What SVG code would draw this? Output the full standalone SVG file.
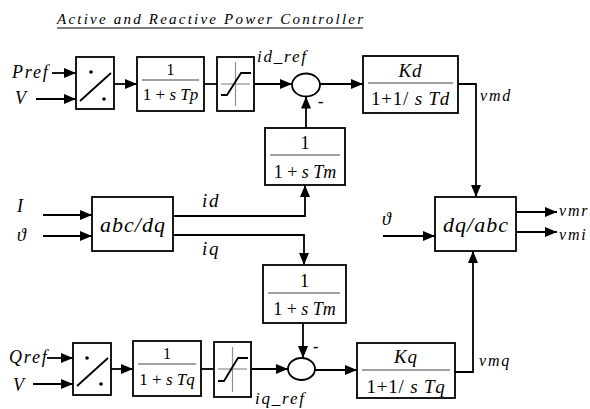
<svg xmlns="http://www.w3.org/2000/svg" width="590" height="409" viewBox="0 0 590 409" font-family="'Liberation Serif', 'DejaVu Serif', serif">
<defs>
<marker id="ah" markerUnits="userSpaceOnUse" markerWidth="13" markerHeight="10" refX="12" refY="5" orient="auto">
<path d="M0,0 L12,5 L0,10 z" fill="#000"/>
</marker>
<style>
text{font-family:'Liberation Serif','DejaVu Serif',serif}
.t{font-style:italic;fill:#000}
.u{font-style:normal;fill:#000}
.sp{letter-spacing:1.8px}
.box{fill:#fff;stroke:#000;stroke-width:1.8}
.frac{stroke:#808080;stroke-width:1.6}
.ln{fill:none;stroke:#000;stroke-width:1.8}
.ar{fill:none;stroke:#000;stroke-width:1.8;marker-end:url(#ah)}
.g{stroke:#909090;stroke-width:1.2}
</style>
</defs>
<rect width="590" height="409" fill="#fff"/>

<g id="title">
<text class="t" x="57" y="24" font-size="15" textLength="306" lengthAdjust="spacing">Active and Reactive Power Controller</text>
<line x1="57" y1="28" x2="363" y2="28" stroke="#000" stroke-width="1.2"/>
</g>

<g id="connectors">
<line class="ar" x1="52" y1="73" x2="76" y2="73"/>
<line class="ar" x1="36" y1="99" x2="76" y2="99"/>
<line class="ar" x1="114" y1="84" x2="137" y2="84"/>
<line class="ln" x1="204" y1="84" x2="217" y2="84"/>
<line class="ar" x1="254" y1="84" x2="292" y2="84"/>
<line class="ar" x1="306" y1="128" x2="306" y2="96.5"/>
<line class="ar" x1="320" y1="84" x2="363" y2="84"/>
<polyline class="ar" points="458,84 476,84 476,197"/>
<line class="ar" x1="43" y1="215" x2="92" y2="215"/>
<line class="ar" x1="43" y1="236" x2="92" y2="236"/>
<polyline class="ar" points="173,216 305,216 305,185"/>
<polyline class="ar" points="173,235 304,235 304,265"/>
<line class="ar" x1="303" y1="323" x2="303" y2="358"/>
<line class="ar" x1="383" y1="236" x2="435" y2="236"/>
<line class="ar" x1="516" y1="212" x2="557" y2="212"/>
<line class="ar" x1="516" y1="232" x2="557" y2="232"/>
<line class="ar" x1="47" y1="358" x2="73" y2="358"/>
<line class="ar" x1="33" y1="384" x2="73" y2="384"/>
<line class="ar" x1="111" y1="369" x2="133" y2="369"/>
<line class="ln" x1="201" y1="369" x2="214" y2="369"/>
<line class="ar" x1="251" y1="369" x2="288" y2="369"/>
<line class="ar" x1="315" y1="370" x2="357" y2="370"/>
<polyline class="ar" points="455,372 473,372 473,251"/>
</g>

<g id="labels">
<text class="t sp" x="12" y="78" font-size="18">Pref</text>
<text class="t" x="15" y="104" font-size="18">V</text>
<text class="t sp" x="257" y="62" font-size="17">id_ref</text>
<text class="u" x="318" y="107" font-size="16" font-weight="bold">-</text>
<text class="t sp" x="480" y="101" font-size="16">vmd</text>
<text class="t" x="17" y="212" font-size="18">I</text>
<text class="t" x="17" y="241" font-size="18">ϑ</text>
<text class="t sp" x="202" y="207" font-size="19">id</text>
<text class="t sp" x="202" y="255" font-size="19">iq</text>
<text class="t" x="382" y="225" font-size="18">ϑ</text>
<text class="t sp" x="559" y="216" font-size="16">vmr</text>
<text class="t sp" x="559" y="240" font-size="16">vmi</text>
<text class="t sp" x="9" y="363" font-size="18">Qref</text>
<text class="t" x="13" y="391" font-size="18">V</text>
<text class="t sp" x="255" y="404" font-size="17">iq_ref</text>
<text class="u" x="313" y="352" font-size="16" font-weight="bold">-</text>
<text class="t sp" x="479" y="366" font-size="16">vmq</text>
</g>

<g id="div_p">
<rect class="box" x="76" y="57" width="38" height="52"/>
<line class="ln" x1="80" y1="101" x2="111" y2="73"/>
<circle cx="91" cy="72" r="1.8"/>
<circle cx="104" cy="99" r="1.8"/>
</g>

<g id="lag_p">
<rect class="box" x="137" y="57" width="67" height="54"/>
<line class="frac" x1="142" y1="80" x2="199" y2="80"/>
<text class="u" x="170.5" y="75" font-size="16" text-anchor="middle">1</text>
<text class="u" x="170.5" y="100" font-size="17" text-anchor="middle">1 + <tspan font-style="italic">s Tp</tspan></text>
</g>

<g id="sat_p">
<rect class="box" x="217" y="57" width="37" height="54"/>
<line class="g" x1="235.5" y1="62" x2="235.5" y2="106"/>
<line class="g" x1="221" y1="84" x2="250" y2="84"/>
<polyline class="ln" points="221,95 227,95 241,73 251,73"/>
</g>

<g id="sum_d">
<ellipse cx="306" cy="85" rx="14" ry="11.5" fill="#fff" stroke="#000" stroke-width="1.8"/>
</g>

<g id="pi_d">
<rect class="box" x="363" y="56" width="95" height="57"/>
<line class="frac" x1="368" y1="83" x2="453" y2="83"/>
<text class="t" x="410.5" y="77" font-size="19" text-anchor="middle" letter-spacing="0.8">Kd</text>
<text class="u" x="410.5" y="105" font-size="19" text-anchor="middle" letter-spacing="0.8">1+1/ <tspan font-style="italic">s Td</tspan></text>
</g>

<g id="filt_d">
<rect class="box" x="265" y="128" width="80" height="57"/>
<line class="frac" x1="270" y1="155" x2="340" y2="155"/>
<text class="u" x="305" y="149" font-size="18" text-anchor="middle">1</text>
<text class="u" x="305" y="178" font-size="18" text-anchor="middle">1 + <tspan font-style="italic">s Tm</tspan></text>
</g>

<g id="abc_dq">
<rect class="box" x="92" y="197" width="81" height="54"/>
<text class="t" x="133" y="232" font-size="22" text-anchor="middle" letter-spacing="1">abc/dq</text>
</g>

<g id="dq_abc">
<rect class="box" x="435" y="197" width="81" height="54"/>
<text class="t" x="476" y="232" font-size="22" text-anchor="middle" letter-spacing="1">dq/abc</text>
</g>

<g id="filt_q">
<rect class="box" x="263" y="265" width="83" height="58"/>
<line class="frac" x1="268" y1="293" x2="340" y2="293"/>
<text class="u" x="304.5" y="287" font-size="18" text-anchor="middle">1</text>
<text class="u" x="304.5" y="315" font-size="18" text-anchor="middle">1 + <tspan font-style="italic">s Tm</tspan></text>
</g>

<g id="div_q">
<rect class="box" x="73" y="343" width="38" height="52"/>
<line class="ln" x1="77" y1="386" x2="108" y2="358"/>
<circle cx="87" cy="358" r="1.8"/>
<circle cx="101" cy="384" r="1.8"/>
</g>

<g id="lag_q">
<rect class="box" x="133" y="341" width="68" height="55"/>
<line class="frac" x1="138" y1="364" x2="196" y2="364"/>
<text class="u" x="167" y="359" font-size="16" text-anchor="middle">1</text>
<text class="u" x="167" y="385" font-size="17" text-anchor="middle">1 + <tspan font-style="italic">s Tq</tspan></text>
</g>

<g id="sat_q">
<rect class="box" x="214" y="342" width="37" height="55"/>
<line class="g" x1="232.5" y1="347" x2="232.5" y2="392"/>
<line class="g" x1="218" y1="369" x2="247" y2="369"/>
<polyline class="ln" points="218,381 224,381 238,358 248,358"/>
</g>

<g id="sum_q">
<ellipse cx="301.5" cy="369" rx="13.5" ry="11" fill="#fff" stroke="#000" stroke-width="1.8"/>
</g>

<g id="pi_q">
<rect class="box" x="357" y="343" width="98" height="55"/>
<line class="frac" x1="362" y1="370" x2="450" y2="370"/>
<text class="t" x="406" y="363" font-size="19" text-anchor="middle" letter-spacing="0.8">Kq</text>
<text class="u" x="406" y="393" font-size="19" text-anchor="middle" letter-spacing="0.8">1+1/ <tspan font-style="italic">s Tq</tspan></text>
</g>
</svg>
